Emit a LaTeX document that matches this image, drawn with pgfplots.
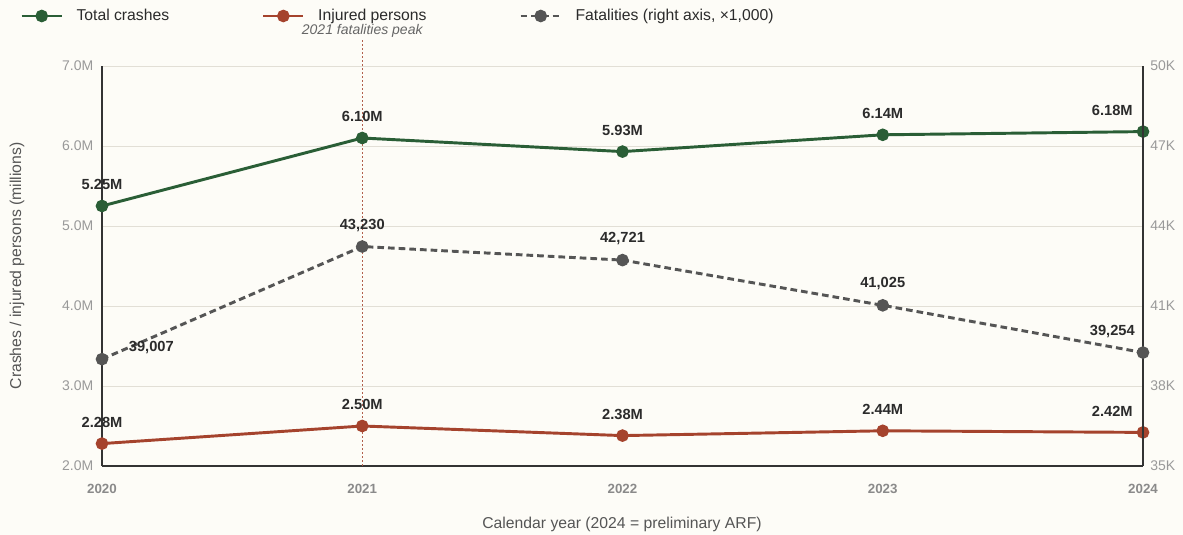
\documentclass[border=0pt]{standalone}
\usepackage{pgfplots}
\pgfplotsset{compat=1.18}
\usepackage{pgfplotstable}
\usepackage{fontspec}
\setmainfont{Liberation Sans}
\definecolor{bg}{HTML}{FDFCF7}
\definecolor{cgreen}{HTML}{2A5E36}
\definecolor{cred}{HTML}{A5432D}
\definecolor{cgray}{HTML}{555555}
\definecolor{tickgray}{HTML}{999999}
\definecolor{gridc}{HTML}{E2DFD6}
\definecolor{axisc}{HTML}{333333}
\definecolor{labc}{HTML}{2B2B2B}

\pgfplotstableread{
x y label dx dy
0 5.25 5.25M 0 16
1 6.10 6.10M 0 16
2 5.93 5.93M 0 16
3 6.14 6.14M 0 16
4 6.18 6.18M -23 16
}\crashes
\pgfplotstableread{
x y label dx dy
0 2.28 2.28M 0 16
1 2.50 2.50M 0 16
2 2.38 2.38M 0 16
3 2.44 2.44M 0 16
4 2.42 2.42M -23 16
}\injured
\pgfplotstableread{
x y label dx dy
0 39007 39,007 37 9
1 43230 43,230 0 16
2 42721 42,721 0 16
3 41025 41,025 0 16
4 39254 39,254 -23 16
}\fatal

\pgfplotsset{
  mylabels/.style={
    point meta=explicit symbolic,
    nodes near coords,
    visualization depends on={\thisrow{dx} \as \dx},
    visualization depends on={\thisrow{dy} \as \dy},
    every node near coord/.append style={anchor=center, inner sep=0pt,
      xshift=\dx pt, yshift=\dy pt, font=\bfseries\fontsize{11}{13}\selectfont, text=labc},
  },
  common/.style={
    at={(76.5pt,51.75pt)}, anchor=south west,
    scale only axis, width=780.75pt, height=300pt,
    xmin=0, xmax=4, clip=false,
    major tick length=0pt,
  },
}

\begin{document}
\begin{tikzpicture}
\useasboundingbox (0pt,0pt) rectangle (887.25pt,401.25pt);
\fill[bg] (0pt,0pt) rectangle (887.25pt,401.25pt);

\begin{axis}[common,
  ymin=2, ymax=7,
  ytick={2,3,4,5,6,7},
  yticklabels={2.0M,3.0M,4.0M,5.0M,6.0M,7.0M},
  xtick={0,1,2,3,4},
  xticklabels={2020,2021,2022,2023,2024},
  axis x line*=bottom, axis y line*=left,
  axis line style={axisc, line width=1pt, -},
  ymajorgrids, grid style={gridc, line width=0.6pt},
  yticklabel style={text=tickgray, font=\fontsize{10.5}{12}\selectfont, xshift=-3pt},
  xticklabel style={text=tickgray!90!black, font=\bfseries\fontsize{10}{12}\selectfont, yshift=-10pt},
  legend columns=3,
  legend style={at={(axis description cs:0,1)}, anchor=west, xshift=-61.5pt, yshift=37.5pt,
    draw=none, fill=none, inner sep=0pt,
    font=\fontsize{11.8}{14}\selectfont, text=labc,
    /tikz/every even column/.append style={column sep=67.5pt},
    /tikz/every odd column/.append style={column sep=8pt}},
  legend image code/.code={\draw[mark repeat=2, mark phase=2] plot coordinates {(0pt,0pt) (15pt,0pt) (30pt,0pt)};},
]
\draw[cred!85, line width=0.5pt, dash pattern=on 1.5pt off 1.5pt] (axis cs:1,2) -- ([yshift=21pt]axis cs:1,7);
\node[font=\itshape\fontsize{10.5}{12}\selectfont, text=cgray!90] at ([yshift=26pt]axis cs:1,7) {2021 fatalities peak};

\addplot[cgreen, line width=2.2pt, mark=*, mark size=3.6pt, mark options={solid, fill=cgreen}, mylabels]
  table[x=x, y=y, meta=label] {\crashes};
\addlegendentry{Total crashes}
\addplot[cred, line width=2.2pt, mark=*, mark size=3.6pt, mark options={solid, fill=cred}, mylabels]
  table[x=x, y=y, meta=label] {\injured};
\addlegendentry{Injured persons}
\addlegendimage{cgray, line width=2.2pt, dash pattern=on 5pt off 3pt, mark=*, mark size=3.6pt, mark options={solid, fill=cgray}}
\addlegendentry{Fatalities (right axis, ×1,000)}
\end{axis}

\begin{axis}[common,
  ymin=35000, ymax=50000,
  ytick={35000,38000,41000,44000,47000,50000},
  yticklabels={35K,38K,41K,44K,47K,50K},
  scaled ticks=false,
  axis y line*=right, axis x line=none,
  axis line style={axisc, line width=1pt, -},
  yticklabel style={text=tickgray, font=\fontsize{10.5}{12}\selectfont, xshift=2pt},
]
\addplot[cgray, line width=2.2pt, dash pattern=on 5pt off 3pt, mark=*, mark size=3.6pt, mark options={solid, fill=cgray}, mylabels]
  table[x=x, y=y, meta=label] {\fatal};
\end{axis}

\node[rotate=90, text=cgray, font=\fontsize{11.8}{14}\selectfont] at (12.75pt,201.75pt) {Crashes / injured persons (millions)};
\node[text=cgray, font=\fontsize{11.8}{14}\selectfont] at (466.5pt,8pt) {Calendar year (2024 = preliminary ARF)};
\end{tikzpicture}
\end{document}
